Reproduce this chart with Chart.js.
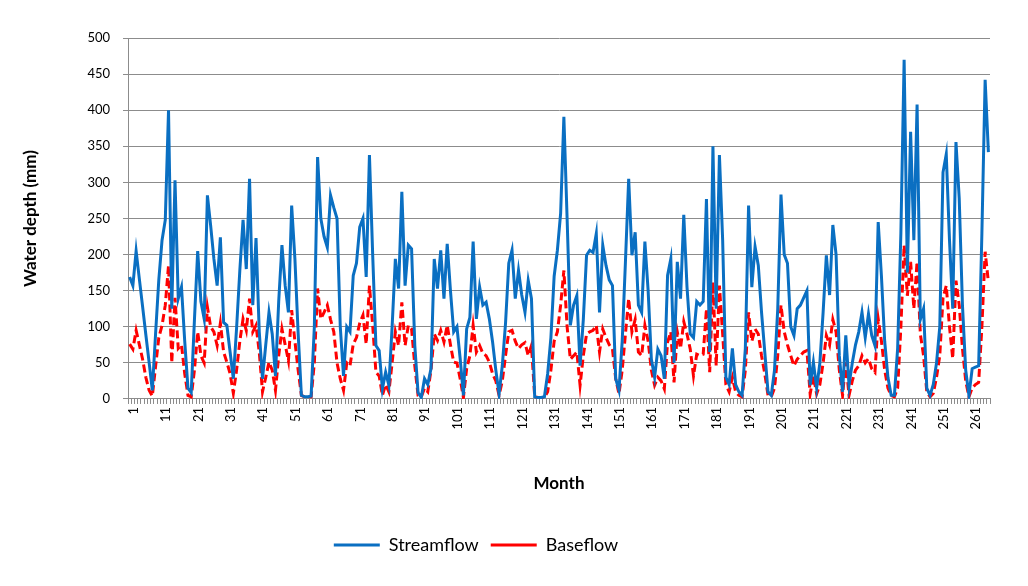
<!DOCTYPE html>
<html>
<head>
<meta charset="utf-8">
<script src="https://cdn.jsdelivr.net/npm/chart.js@4.4.1/dist/chart.umd.min.js"></script>
<style>
  html, body { margin: 0; padding: 0; background: #fff; }
  #wrap { width: 1028px; height: 586px; }
</style>
</head>
<body>
<div id="wrap"><canvas id="chart" width="1028" height="586"></canvas></div>
<script>
// monthly water depth (mm)
const streamflow = [
  169, 157, 205, 166, 128, 89, 51, 12, 90, 165, 220, 248, 400, 125, 303, 139, 155, 80, 15, 9, 110, 205,
  135, 111, 282, 240, 194, 157, 224, 106, 102, 65, 28, 98, 178, 248, 180, 305, 130, 223, 93, 28, 75, 120,
  90, 32, 135, 213, 157, 120, 268, 194, 91, 5, 3, 3, 4, 100, 335, 250, 225, 210, 282, 265, 250, 100, 32,
  100, 93, 171, 188, 238, 250, 169, 338, 200, 74, 67, 14, 37, 19, 100, 194, 153, 287, 157, 213, 208, 74, 9,
  2, 28, 20, 42, 194, 153, 206, 139, 215, 150, 93, 100, 56, 5, 97, 113, 218, 111, 155, 130, 134, 111, 79,
  40, 7, 46, 105, 188, 206, 139, 178, 144, 120, 164, 139, 3, 2, 2, 3, 35, 85, 170, 206, 257, 391, 250,
  102, 130, 143, 46, 110, 199, 206, 203, 229, 120, 213, 185, 165, 157, 28, 12, 80, 190, 305, 199, 231, 130,
  120, 218, 150, 55, 30, 69, 60, 28, 171, 194, 50, 190, 139, 255, 155, 90, 85, 135, 130, 135, 277, 65, 350,
  125, 338, 220, 30, 20, 70, 20, 10, 5, 70, 268, 155, 211, 185, 120, 65, 10, 5, 40, 125, 283, 200, 188,
  100, 88, 125, 130, 140, 150, 19, 51, 15, 50, 120, 199, 144, 241, 200, 60, 10, 88, 19, 50, 75, 93, 120,
  85, 118, 88, 74, 245, 170, 80, 30, 5, 5, 70, 230, 470, 175, 370, 220, 408, 110, 125, 15, 5, 20, 50,
  100, 314, 339, 220, 125, 356, 278, 130, 40, 5, 42, 44, 46, 230, 442, 342
];

const baseflow = [
  76, 69, 95, 75, 55, 30, 12, 4, 45, 85, 102, 130, 185, 50, 140, 70, 75, 35, 5, 3, 40, 93,
  60, 50, 127, 100, 93, 74, 105, 65, 51, 35, 8, 40, 80, 111, 95, 139, 93, 102, 65, 10, 30, 51,
  40, 12, 60, 97, 75, 53, 123, 80, 40, 5, 3, 3, 3, 50, 153, 111, 120, 130, 110, 93, 50, 28, 12,
  50, 46, 76, 85, 105, 116, 76, 157, 102, 37, 32, 5, 20, 10, 50, 93, 74, 134, 74, 102, 97, 46, 5,
  3, 15, 10, 40, 90, 81, 95, 79, 102, 75, 51, 50, 28, 2, 42, 60, 102, 65, 74, 63, 60, 51, 35,
  25, 5, 25, 60, 93, 95, 80, 70, 75, 78, 60, 74, 3, 2, 2, 2, 10, 40, 80, 93, 130, 178, 100,
  55, 60, 65, 19, 60, 90, 93, 95, 102, 65, 97, 85, 75, 69, 28, 7, 40, 90, 139, 93, 110, 65,
  60, 102, 80, 40, 19, 30, 25, 14, 79, 93, 23, 93, 70, 107, 90, 69, 32, 62, 60, 62, 125, 37, 162,
  46, 157, 90, 20, 10, 30, 10, 5, 3, 40, 120, 80, 97, 90, 60, 35, 5, 3, 15, 60, 130, 93, 75,
  60, 46, 55, 60, 65, 67, 7, 32, 7, 20, 50, 88, 75, 110, 93, 40, 5, 51, 5, 25, 40, 46, 60,
  50, 56, 42, 37, 111, 80, 40, 15, 5, 3, 15, 100, 213, 143, 190, 125, 190, 90, 60, 10, 3, 8, 30,
  60, 140, 157, 100, 56, 164, 130, 70, 25, 3, 15, 20, 23, 100, 204, 162
];

// month numbers on the category axis, labelled every 10th
const months = streamflow.map((_, i) => i + 1);
const labelEvery = 10;

const yMin = 0;
const yMax = 500;
const yStep = 50;

const FONT = 'Lato, "Open Sans", sans-serif';
const GRID = '#8c8c8c';

// the legend in the figure sits a little left of centre
const legendShift = {
  id: 'legendShift',
  afterLayout(chart) {
    const lg = chart.legend;
    if (!lg) return;
    lg.left -= 25;
    lg.right -= 25;
  },
};

new Chart(document.getElementById('chart').getContext('2d'), {
  type: 'line',
  data: {
    labels: months,
    datasets: [
      {
        label: 'Streamflow',
        data: streamflow,
        borderColor: '#0a6fc2',
        backgroundColor: '#0a6fc2',
        borderWidth: 3,
        pointRadius: 0,
        tension: 0,
        fill: false,
      },
      {
        label: 'Baseflow',
        data: baseflow,
        borderColor: '#ff0000',
        backgroundColor: '#ff0000',
        borderWidth: 3,
        borderDash: [8, 4],
        pointRadius: 0,
        tension: 0,
        fill: false,
      },
    ],
  },
  plugins: [legendShift],
  options: {
    responsive: false,
    animation: false,
    layout: { padding: { top: 38, right: 38, bottom: 22, left: 12 } },
    plugins: {
      tooltip: { enabled: false },
      legend: {
        position: 'bottom',
        labels: {
          usePointStyle: true,
          pointStyle: 'line',
          pointStyleWidth: 46,
          boxHeight: 16,
          padding: 12,
          color: '#000',
          font: { family: FONT, size: 18 },
        },
      },
    },
    scales: {
      x: {
        offset: true,
        grid: {
          offset: true,
          drawOnChartArea: false,
          drawTicks: true,
          tickLength: 5,
          color: GRID,
        },
        border: { color: GRID, width: 1 },
        ticks: {
          autoSkip: false,
          minRotation: 90,
          maxRotation: 90,
          padding: 3,
          labelOffset: 4,
          color: '#000',
          font: { family: FONT, size: 13 },
          callback: (v, i) => (i % labelEvery === 0 ? String(months[i]) : ''),
        },
        title: {
          display: true,
          text: 'Month',
          color: '#000',
          font: { family: FONT, size: 17, weight: 'bold' },
          padding: { top: 41, bottom: 30 },
        },
      },
      y: {
        min: yMin,
        max: yMax,
        grid: { color: GRID, tickLength: 5 },
        border: { color: GRID, width: 1 },
        ticks: {
          stepSize: yStep,
          padding: 13,
          color: '#000',
          font: { family: FONT, size: 13 },
        },
        title: {
          display: true,
          text: 'Water depth (mm)',
          color: '#000',
          font: { family: FONT, size: 17, weight: 'bold' },
          padding: { top: 8, bottom: 34 },
        },
      },
    },
  },
});
</script>
</body>
</html>
